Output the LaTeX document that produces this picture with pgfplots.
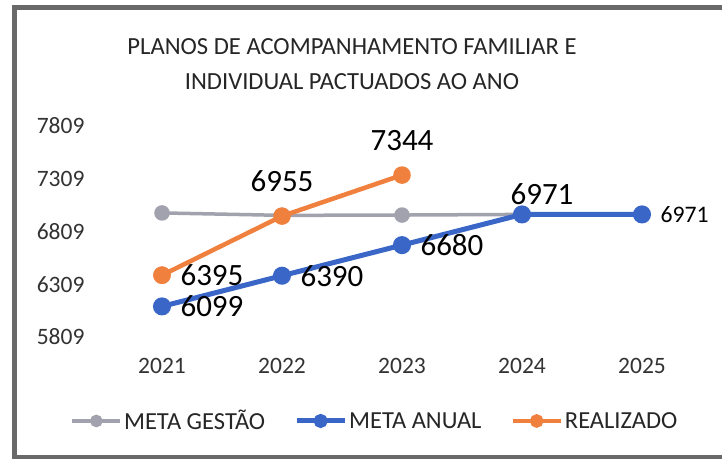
\documentclass[border=0pt]{standalone}
\usepackage{pgfplots}
\pgfplotsset{compat=1.18}
\usepackage{fontspec}
\setmainfont{Carlito}
\definecolor{cgray}{RGB}{162,162,174}
\definecolor{cblue}{RGB}{58,102,200}
\definecolor{corange}{RGB}{240,128,62}
\definecolor{cframe}{RGB}{105,105,105}
\begin{document}
\begin{tikzpicture}[x=1pt,y=1pt]
\path[use as bounding box] (0,0) rectangle (722,461);
\fill[white] (0,0) rectangle (722,461);
\draw[cframe,line width=5pt] (14.5,2) -- (14.5,453) -- (722,453);
\draw[cframe,line width=4pt] (14.5,4) -- (722,4);
\node[font=\fontsize{24.6}{35}\selectfont,align=center,text=black!85] at (352,397)
  {PLANOS DE ACOMPANHAMENTO FAMILIAR E\\INDIVIDUAL PACTUADOS AO ANO};
\begin{axis}[
  at={(102pt,124pt)}, anchor=south west,
  scale only axis, width=600pt, height=211pt,
  xmin=2020.5, xmax=2025.5, ymin=5809, ymax=7809,
  xtick={2021,2022,2023,2024,2025},
  ytick={5809,6309,6809,7309,7809},
  xticklabel style={/pgf/number format/1000 sep={},yshift=-18pt},
  yticklabel style={/pgf/number format/1000 sep={},xshift=-14pt},
  /pgf/number format/assume math mode=true,
  ticklabel style={font=\fontsize{23.5}{28}\selectfont,text=black!80},
  axis line style={draw=none},
  major tick length=0pt,
  clip=false,
  legend columns=3,
  legend style={draw=none,fill=none,at={(0.455,-0.398)},anchor=center,
    font=\fontsize{24.5}{28}\selectfont,text=black!85,
    /tikz/every even column/.append style={column sep=27pt},
    inner sep=0pt},
  legend image code/.code={\draw[mark repeat=2,mark phase=2,mark size=4.5pt] plot coordinates {(0pt,0pt) (24pt,0pt) (48pt,0pt)};},
  every node near coord/.append style={font=\fontsize{31}{36}\selectfont,text=black},
]
\addplot[cgray,line width=3.5pt,mark=*,mark size=6pt] coordinates {(2021,6985) (2022,6962) (2023,6965) (2024,6971)};
\addlegendentry{META GESTÃO}
\addplot[cblue,line width=5pt,mark=*,mark size=6.5pt] coordinates {(2021,6099) (2022,6390) (2023,6680) (2024,6971) (2025,6971)};
\addlegendentry{META ANUAL}
\addplot[corange,line width=4.5pt,mark=*,mark size=6.5pt] coordinates {(2021,6395) (2022,6955) (2023,7344)};
\addlegendentry{REALIZADO}
\addplot[corange,only marks,mark=*,mark size=8.5pt,forget plot] coordinates {(2021,6395)};
% labels right of points
\addplot[draw=none,mark=none,forget plot,nodes near coords,
  every node near coord/.append style={anchor=west,xshift=15pt,/pgf/number format/1000 sep={}}]
  coordinates {(2021,6395) (2021,6099) (2022,6390) (2023,6680)};
% labels above points
\addplot[draw=none,mark=none,forget plot,nodes near coords,
  every node near coord/.append style={anchor=south,yshift=21pt,/pgf/number format/1000 sep={}}]
  coordinates {(2022,6955) (2023,7344)};
\addplot[draw=none,mark=none,forget plot,nodes near coords,
  every node near coord/.append style={anchor=south,yshift=6pt,xshift=20pt,/pgf/number format/1000 sep={}}]
  coordinates {(2024,6971)};
\addplot[draw=none,mark=none,forget plot,nodes near coords,
  every node near coord/.append style={anchor=west,xshift=15pt,font=\fontsize{23.7}{28}\selectfont,/pgf/number format/1000 sep={}}]
  coordinates {(2025,6971)};
\end{axis}
\end{tikzpicture}
\end{document}
